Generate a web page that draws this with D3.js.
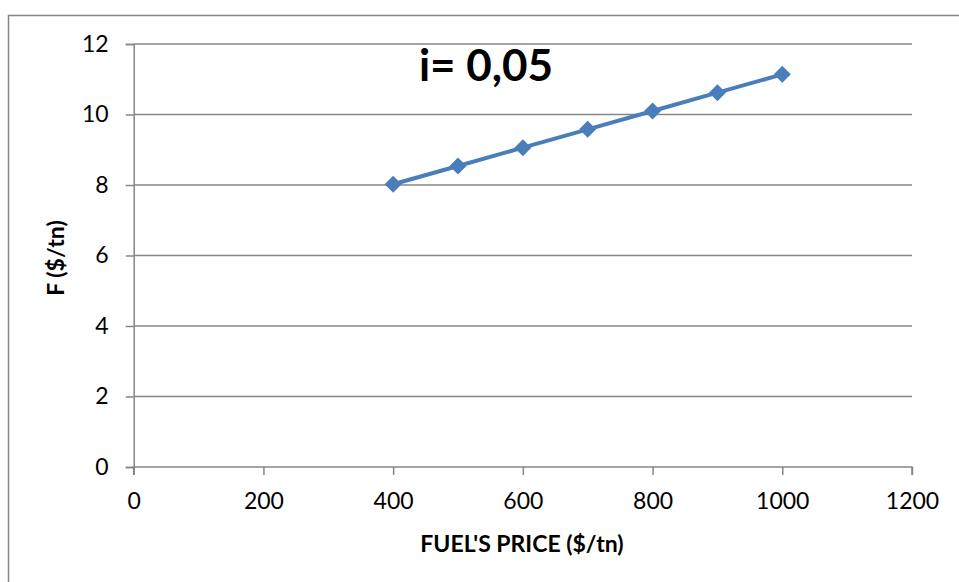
<!DOCTYPE html>
<html>
<head>
<meta charset="utf-8">
<script src="https://cdn.jsdelivr.net/npm/d3@7"></script>
<style>
  html, body { margin: 0; padding: 0; background: #fff; }
  svg { display: block; font-family: Lato, "Open Sans", sans-serif; }
</style>
</head>
<body>
<svg id="chart" width="959" height="582"></svg>
<script>
// Fuel price ($/tn) and resulting F ($/tn) at i = 0,05
const fuelPrice = [400, 500, 600, 700, 800, 900, 1000];
const fValues = [8.02, 8.54, 9.06, 9.58, 10.10, 10.62, 11.14];
const xTicks = [0, 200, 400, 600, 800, 1000, 1200];
const yTicks = [0, 2, 4, 6, 8, 10, 12];
const chartTitle = "i= 0,05";
const xTitle = "FUEL'S PRICE ($/tn)";
const yTitle = "F ($/tn)";

const svg = d3.select("#chart");
const grid = "#868686";

// outer chart frame
svg.append("rect")
  .attr("x", 8.5).attr("y", 15.5)
  .attr("width", 1000).attr("height", 1000)
  .attr("fill", "none").attr("stroke", grid).attr("stroke-width", 1.5);

const x = d3.scaleLinear().domain([0, 1200]).range([133.7, 912]);
const y = d3.scaleLinear().domain([0, 12]).range([467, 44]);

// horizontal gridlines
svg.append("g").selectAll("line").data(yTicks.filter(d => d > 0)).join("line")
  .attr("x1", x(0)).attr("x2", x(1200))
  .attr("y1", d => y(d)).attr("y2", d => y(d))
  .attr("stroke", grid).attr("stroke-width", 1.5);

// y axis
const yAxis = svg.append("g").attr("transform", `translate(${x(0)},0)`)
  .call(d3.axisLeft(y).tickValues(yTicks).tickSize(8).tickPadding(17).tickFormat(d3.format("d")));
yAxis.select(".domain").attr("stroke", grid).attr("stroke-width", 1.5);
yAxis.selectAll(".tick line").attr("stroke", grid).attr("stroke-width", 1.5);
yAxis.selectAll("text").attr("font-size", 23).attr("fill", "#000")
  .attr("font-family", "Lato, sans-serif");

// x axis
const xAxis = svg.append("g").attr("transform", `translate(0,${y(0)})`)
  .call(d3.axisBottom(x).tickValues(xTicks).tickSize(8).tickPadding(18).tickFormat(d3.format("d")));
xAxis.select(".domain").attr("stroke", grid).attr("stroke-width", 1.5)
  .attr("d", `M${x(0)},8V0H${x(1200)}V8`);
xAxis.selectAll(".tick line").attr("stroke", grid).attr("stroke-width", 1.5);
xAxis.selectAll("text").attr("font-size", 23).attr("fill", "#000")
  .attr("font-family", "Lato, sans-serif");

// data line
const pts = fuelPrice.map((p, i) => [p, fValues[i]]);
svg.append("path")
  .datum(pts)
  .attr("fill", "none")
  .attr("stroke", "#4a7ebb")
  .attr("stroke-width", 4)
  .attr("stroke-linejoin", "round")
  .attr("d", d3.line().x(d => x(d[0])).y(d => y(d[1])));

// diamond markers
svg.append("g").selectAll("path").data(pts).join("path")
  .attr("transform", d => `translate(${x(d[0])},${y(d[1])})`)
  .attr("d", "M0,-8.5L8.5,0L0,8.5L-8.5,0Z")
  .attr("fill", "#4a7ebb");

// title
svg.append("text")
  .attr("x", 486).attr("y", 81)
  .attr("text-anchor", "middle")
  .attr("font-size", 44).attr("font-weight", "bold")
  .text(chartTitle);

// axis titles
svg.append("text")
  .attr("x", 522).attr("y", 552)
  .attr("text-anchor", "middle")
  .attr("font-size", 23).attr("font-weight", "bold")
  .text(xTitle);

svg.append("text")
  .attr("transform", "translate(64,258) rotate(-90)")
  .attr("text-anchor", "middle")
  .attr("font-size", 23).attr("font-weight", "bold")
  .text(yTitle);
</script>
</body>
</html>
